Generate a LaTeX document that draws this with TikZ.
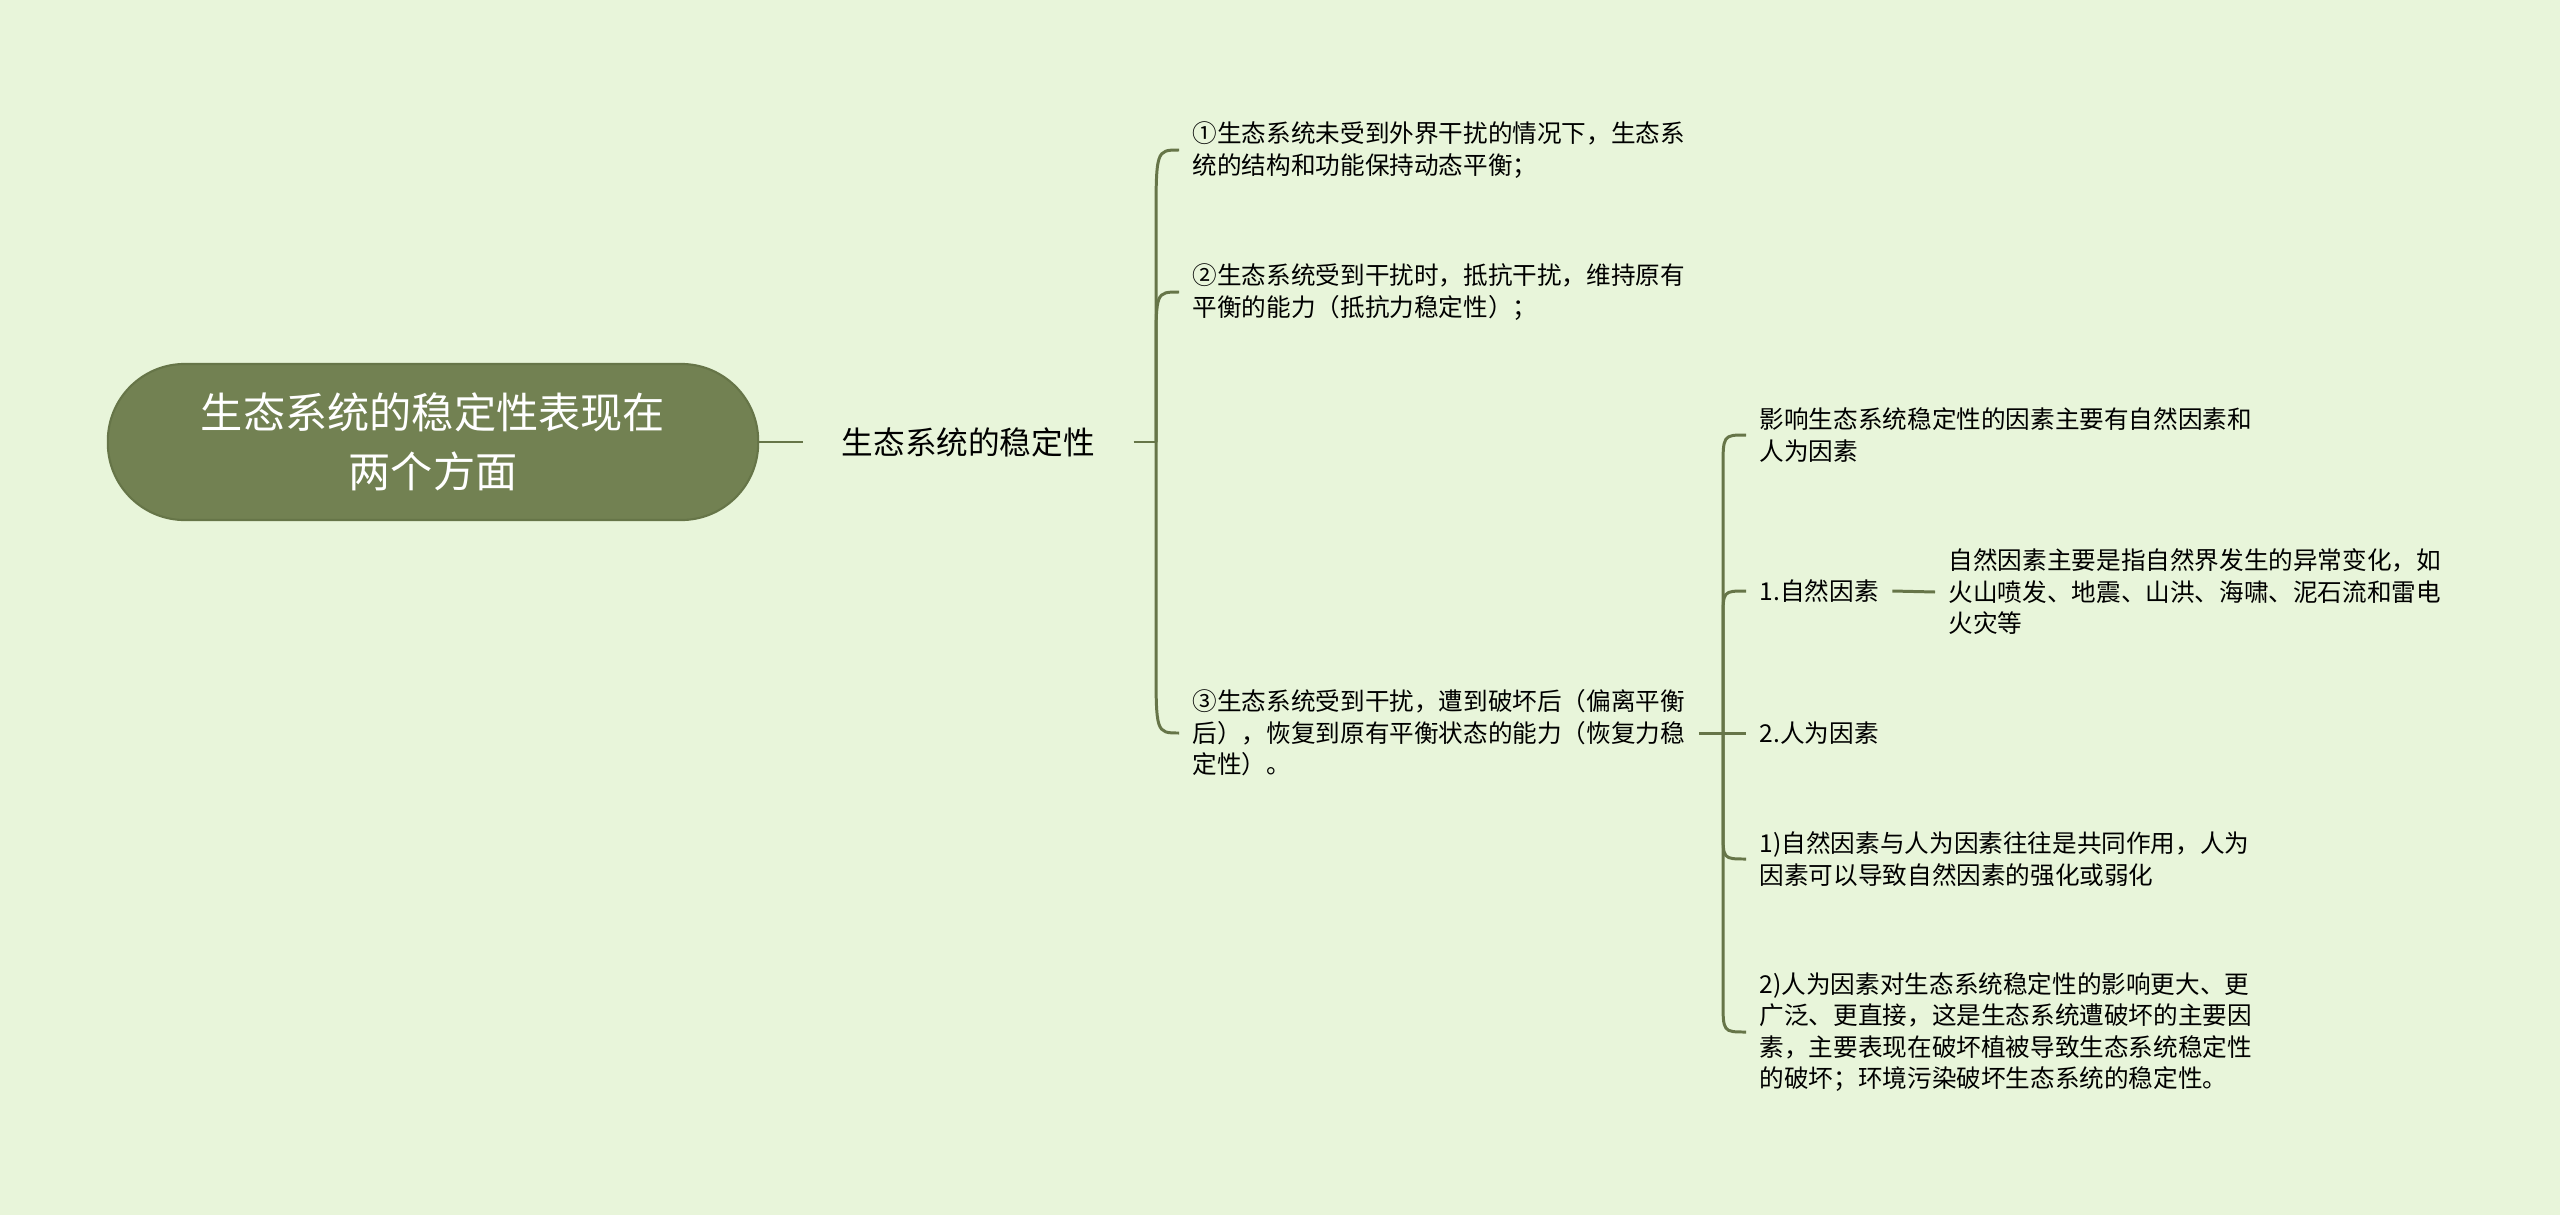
\documentclass[tikz,border=0pt]{standalone}
\usepackage{fontspec}
\setmainfont{Noto Sans CJK SC}
\usepackage{tikz}
\usetikzlibrary{positioning,calc}
\definecolor{bgcol}{HTML}{E8F5DA}
\definecolor{rootcol}{HTML}{728152}
\definecolor{linecol}{HTML}{667548}

\begin{document}
\begin{tikzpicture}[x=0.01cm,y=-0.01cm,
						rootnode/.style={rectangle, rounded corners=0.77cm, draw=linecol, line width=0.6pt, fill=rootcol, text=white, minimum width=6.5cm, minimum height=1.56cm, align=center, font=\fontsize{12}{16.6}\selectfont},
						topicnode/.style={anchor=west, inner xsep=0.38cm, font=\fontsize{9}{11}\selectfont},
						leafnode/.style={anchor=west, inner xsep=0.13cm, inner ysep=0pt, align=left, font=\fontsize{7}{8.95}\selectfont},
						link/.style={draw=linecol, line width=0.85pt},
						]
						\fill[bgcol] (0,0) rectangle (2560,1215);
						\useasboundingbox (0,0) rectangle (2560,1215);
						%Nodes
						\node[rootnode]      (root) 	at 	(433,442)       {生态系统的稳定性表现在\\两个方面};
						\node[topicnode]     (stab) 	at 	(803,442)       {生态系统的稳定性};
						\node[leafnode]      (p1) 	at 	(1179,150)      {①生态系统未受到外界干扰的情况下，生态系\\统的结构和功能保持动态平衡；};
						\node[leafnode]      (p2) 	at 	(1179,292)      {②生态系统受到干扰时，抵抗干扰，维持原有\\平衡的能力（抵抗力稳定性）；};
						\node[leafnode]      (p3) 	at 	(1179,733)      {③生态系统受到干扰，遭到破坏后（偏离平衡\\后），恢复到原有平衡状态的能力（恢复力稳\\定性）。};
						\node[leafnode]      (f0) 	at 	(1746,435)      {影响生态系统稳定性的因素主要有自然因素和\\人为因素};
						\node[leafnode]      (f1) 	at 	(1746,591)      {1.自然因素};
						\node[leafnode]      (f1a) 	at 	(1935,592)      {自然因素主要是指自然界发生的异常变化，如\\火山喷发、地震、山洪、海啸、泥石流和雷电\\火灾等};
						\node[leafnode]      (f2) 	at 	(1746,733)      {2.人为因素};
						\node[leafnode]      (f3) 	at 	(1746,859)      {1)自然因素与人为因素往往是共同作用，人为\\因素可以导致自然因素的强化或弱化};
						\node[leafnode]      (f4) 	at 	(1746,1032)     {2)人为因素对生态系统稳定性的影响更大、更\\广泛、更直接，这是生态系统遭破坏的主要因\\素，主要表现在破坏植被导致生态系统稳定性\\的破坏；环境污染破坏生态系统的稳定性。};
						\coordinate           (j1) 	at 	(1156,442);
						\coordinate           (j2) 	at 	(1723,733);

						\draw[link] (root.east) --  (stab.west);
						\draw[link] (stab.east) --  (j1);
						\draw[link] (j1) -- ($(j1 |- p1.west)+(0,75)$) .. controls (j1 |- p1.west) .. (p1.west);
						\draw[link] (j1) -- ($(j1 |- p2.west)+(0,58)$) .. controls (j1 |- p2.west) .. (p2.west);
						\draw[link] (j1) -- ($(j1 |- p3.west)+(0,-72)$) .. controls (j1 |- p3.west) .. (p3.west);
						\draw[link] (p3.east) --  (f2.west);
						\draw[link] (j2) -- ($(j2 |- f0.west)+(0,34)$) .. controls (j2 |- f0.west) .. (f0.west);
						\draw[link] (j2) -- ($(j2 |- f1.west)+(0,28)$) .. controls (j2 |- f1.west) .. (f1.west);
						\draw[link] (j2) -- ($(j2 |- f3.west)+(0,-28)$) .. controls (j2 |- f3.west) .. (f3.west);
						\draw[link] (j2) -- ($(j2 |- f4.west)+(0,-32)$) .. controls (j2 |- f4.west) .. (f4.west);
						\draw[link] (f1.east) --  (f1a.west);
\end{tikzpicture}
\end{document}
